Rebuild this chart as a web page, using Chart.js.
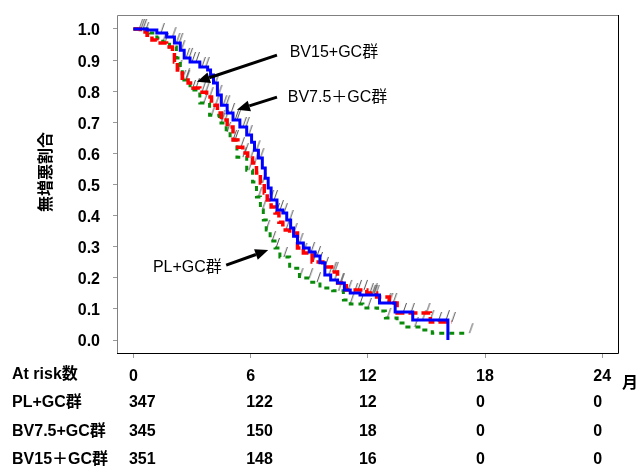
<!DOCTYPE html>
<html>
<head>
<meta charset="utf-8">
<script src="https://cdn.jsdelivr.net/npm/chart.js@4.4.1/dist/chart.umd.min.js"></script>
<style>
    html, body { margin: 0; padding: 0; background: #fff; }
    .chart-box { width: 637px; height: 468px; position: relative; }
</style>
</head>
<body>
<div class="chart-box"><canvas id="km"></canvas></div>
<script>
// Data: Kaplan-Meier curves (month, proportion without progression)
const xTicks = [0, 6, 12, 18, 24];
const yTicks = [0, 0.1, 0.2, 0.3, 0.4, 0.5, 0.6, 0.7, 0.8, 0.9, 1.0];

const bv15Months = [0, 0.7, 1.2, 1.7, 2.1, 2.4, 2.6, 2.9, 3.4, 3.8, 3.95, 4.1, 4.3, 4.5, 4.8, 5.1, 5.45, 5.8, 6.05, 6.2, 6.4, 6.6, 6.75, 6.9, 7.05, 7.35, 7.65, 7.85, 8.05, 8.2, 8.4, 8.7, 9.0, 9.3, 9.55, 9.8, 10.1, 10.45, 10.8, 11.1, 11.6, 12.6, 13.4, 14.3, 16.1];
const bv15Surv = [1.0, 0.997, 0.987, 0.974, 0.955, 0.932, 0.907, 0.894, 0.878, 0.868, 0.852, 0.826, 0.788, 0.755, 0.73, 0.707, 0.685, 0.659, 0.636, 0.61, 0.585, 0.553, 0.52, 0.489, 0.45, 0.418, 0.408, 0.386, 0.36, 0.334, 0.312, 0.296, 0.283, 0.27, 0.248, 0.209, 0.193, 0.183, 0.161, 0.151, 0.145, 0.119, 0.09, 0.064, 0.0];

const bv75Months = [0, 0.35, 0.7, 0.95, 1.2, 1.7, 2.0, 2.1, 2.25, 2.5, 2.8, 3.05, 3.4, 3.75, 4.0, 4.3, 4.5, 4.8, 5.1, 5.35, 5.6, 5.85, 6.1, 6.3, 6.5, 6.7, 6.85, 7.05, 7.25, 7.45, 7.65, 8.0, 8.4, 8.7, 9.15, 9.7, 10.15, 10.45, 10.9, 11.95, 12.45, 13.1, 13.5, 15.2, 16.3];
const bv75Surv = [1.0, 0.99, 0.98, 0.965, 0.955, 0.942, 0.923, 0.894, 0.868, 0.842, 0.826, 0.81, 0.797, 0.781, 0.755, 0.73, 0.707, 0.685, 0.643, 0.62, 0.601, 0.585, 0.569, 0.537, 0.505, 0.473, 0.45, 0.428, 0.408, 0.379, 0.354, 0.344, 0.296, 0.28, 0.251, 0.235, 0.219, 0.183, 0.161, 0.151, 0.138, 0.119, 0.087, 0.058, 0.058];

const plMonths = [0, 0.85, 1.2, 1.5, 1.85, 2.2, 2.4, 2.5, 2.9, 3.4, 3.9, 4.4, 4.75, 4.95, 5.3, 5.8, 6.1, 6.3, 6.5, 6.65, 6.8, 7.0, 7.25, 7.5, 8.0, 8.5, 9.05, 9.55, 10.2, 10.75, 11.1, 11.75, 12.5, 12.9, 13.5, 14.0, 14.7, 15.3, 17.1];
const plSurv = [1.0, 0.987, 0.971, 0.958, 0.942, 0.907, 0.874, 0.836, 0.804, 0.762, 0.723, 0.698, 0.669, 0.643, 0.588, 0.546, 0.508, 0.46, 0.418, 0.386, 0.354, 0.318, 0.296, 0.267, 0.231, 0.199, 0.186, 0.167, 0.158, 0.129, 0.116, 0.103, 0.093, 0.071, 0.055, 0.042, 0.032, 0.022, 0.022];

// censored observations (months)
const bv15Censor = [0.3, 0.5, 1.4, 2.0, 2.2, 2.35, 2.45, 2.7, 2.85, 3.0, 3.2, 3.5, 3.7, 4.2, 4.35, 4.6, 4.75, 5.0, 5.2, 5.3, 5.6, 5.75, 5.9, 6.3, 6.5, 7.2, 7.5, 7.7, 8.0, 8.5, 9.1, 9.4, 10.0, 10.3, 10.6, 11.0, 11.3, 12.2, 12.3, 12.4, 13.0, 13.3, 14.8, 15.2, 16.0];
const bv75Censor = [0.6, 1.6, 2.3, 2.7, 3.2, 3.5, 3.7, 3.9, 4.2, 4.5, 4.7, 5.2, 5.5, 5.7, 6.0, 6.2, 6.6, 7.0, 7.3, 7.8, 8.2, 8.7, 9.2, 9.5, 9.8, 10.2, 10.3, 10.6, 11.5, 11.8, 12.1, 12.3, 13.1, 13.8, 14.2, 15.0, 15.6, 16.3];
const plCensor = [0.4, 1.5, 2.5, 2.7, 3.0, 3.6, 4.0, 4.5, 4.8, 5.1, 5.6, 5.9, 6.4, 6.6, 6.8, 7.1, 7.3, 7.7, 8.5, 9.0, 9.4, 10.5, 11.1, 11.6, 12.0, 13.0, 14.4, 17.2];

// Number at risk
const riskHeader = "At risk数";
const riskGroups = ["PL+GC群", "BV7.5+GC群", "BV15＋GC群"];
const riskPL = [347, 122, 12, 0, 0];
const riskBV75 = [345, 150, 18, 0, 0];
const riskBV15 = [351, 148, 16, 0, 0];

const yTitle = "無増悪割合";
const xUnit = "月";

// ===========================================================================
const FONT = '"Liberation Sans", Arial, "Noto Sans CJK JP", sans-serif';

const toPoints = (months, surv) => months.map((m, i) => ({ x: m, y: surv[i] }));

const stepAt = (months, surv, t) => {
    let v = surv[0];
    months.forEach((m, i) => { if (m <= t) v = surv[i]; });
    return v;
};

const censorPoints = (times, months, surv) => times.map(t => ({ x: t, y: stepAt(months, surv, t) }));

// small "/" tick, drawn from the point upward
const censorMark = (() => {
    const c = document.createElement("canvas");
    c.width = 14; c.height = 26;
    const ctx = c.getContext("2d");
    ctx.strokeStyle = "#505050";
    ctx.lineWidth = 1;
    ctx.beginPath();
    ctx.moveTo(7, 13);
    ctx.lineTo(10.5, 3);
    ctx.stroke();
    return c;
})();

const censorSet = (data) => ({
    type: "scatter",
    data: data,
    pointStyle: censorMark,
    pointRadius: 5,
    showLine: false
});

// frame, risk table, axis title and the labels with arrows
const decorations = {
    id: "decorations",
    afterDraw(chart) {
        const { ctx, chartArea: a, scales: { x, y } } = chart;
        ctx.save();

        // frame
        ctx.lineWidth = 1;
        ctx.strokeStyle = "#808080";
        ctx.beginPath();
        ctx.moveTo(a.left + 0.5, a.bottom);
        ctx.lineTo(a.left + 0.5, a.top + 0.5);
        ctx.lineTo(a.right, a.top + 0.5);
        ctx.stroke();
        ctx.strokeStyle = "#000";
        ctx.beginPath();
        ctx.moveTo(a.right - 0.5, a.top);
        ctx.lineTo(a.right - 0.5, a.bottom - 0.5);
        ctx.lineTo(a.left, a.bottom - 0.5);
        ctx.stroke();

        // y title
        ctx.fillStyle = "#000";
        ctx.font = "bold 16px " + FONT;
        ctx.textAlign = "center";
        ctx.textBaseline = "middle";
        ctx.save();
        ctx.translate(47, 172);
        ctx.rotate(-Math.PI / 2);
        ctx.fillText(yTitle, 0, 0);
        ctx.restore();

        // month unit
        ctx.fillText(xUnit, 630, 384);

        // risk table
        const rows = [riskPL, riskBV75, riskBV15];
        const rowY = [403, 432, 460];
        ctx.textAlign = "left";
        ctx.fillText(riskHeader, 12, 375);
        rows.forEach((row, r) => {
            ctx.fillText(riskGroups[r], 12, rowY[r]);
            row.forEach((n, i) => {
                const w = ctx.measureText(String(xTicks[i])).width;
                ctx.fillText(String(n), x.getPixelForValue(xTicks[i]) - w / 2, rowY[r]);
            });
        });

        // curve labels
        const arrow = (x0, y0, x1, y1) => {
            const ang = Math.atan2(y1 - y0, x1 - x0);
            const len = 13, half = 5.5;
            const bx = x1 - len * Math.cos(ang), by = y1 - len * Math.sin(ang);
            ctx.strokeStyle = "#000";
            ctx.lineWidth = 3;
            ctx.beginPath();
            ctx.moveTo(x0, y0);
            ctx.lineTo(bx, by);
            ctx.stroke();
            ctx.beginPath();
            ctx.moveTo(x1, y1);
            ctx.lineTo(bx + half * Math.sin(ang), by - half * Math.cos(ang));
            ctx.lineTo(bx - half * Math.sin(ang), by + half * Math.cos(ang));
            ctx.closePath();
            ctx.fill();
        };
        const px = v => x.getPixelForValue(v);
        const py = v => y.getPixelForValue(v);

        ctx.font = "16px " + FONT;
        ctx.fillText("BV15+GC群", px(8.0), py(0.923));
        arrow(px(7.35), py(0.916), px(3.25), py(0.83));
        ctx.fillText("BV7.5＋GC群", px(7.9), py(0.781));
        arrow(px(7.35), py(0.781), px(5.3), py(0.74));
        ctx.fillText("PL+GC群", px(1.0), py(0.232));
        arrow(px(4.75), py(0.241), px(6.9), py(0.289));

        ctx.restore();
    }
};

// ===========================================================================
const canvas = document.getElementById("km");

new Chart(canvas, {
    type: "line",
    data: {
        datasets: [
            {
                label: "BV15+GC",
                data: toPoints(bv15Months, bv15Surv),
                borderColor: "#0000ff",
                borderWidth: 3,
                stepped: true
            },
            {
                label: "BV7.5+GC",
                data: toPoints(bv75Months, bv75Surv),
                borderColor: "#ff0000",
                borderWidth: 3.5,
                borderDash: [9, 4],
                stepped: true
            },
            {
                label: "PL+GC",
                data: toPoints(plMonths, plSurv),
                borderColor: "#0a8a0a",
                borderWidth: 3,
                borderDash: [5, 5],
                stepped: true
            },
            censorSet(censorPoints(bv15Censor, bv15Months, bv15Surv)),
            censorSet(censorPoints(bv75Censor, bv75Months, bv75Surv)),
            censorSet(censorPoints(plCensor, plMonths, plSurv))
        ]
    },
    options: {
        animation: false,
        responsive: true,
        maintainAspectRatio: false,
        devicePixelRatio: 1,
        elements: {
            point: { radius: 0 },
            line: { fill: false, borderCapStyle: "butt" }
        },
        plugins: {
            legend: { display: false },
            tooltip: { enabled: false }
        },
        layout: {
            padding: { top: 15, right: 18, left: 0, bottom: 0 }
        },
        scales: {
            x: {
                type: "linear",
                min: -0.84,
                max: 24.86,
                afterFit: (s) => { s.height = 114; s.paddingLeft = 0; s.paddingRight = 0; },
                afterBuildTicks: (s) => { s.ticks = xTicks.map(v => ({ value: v })); },
                border: { display: false },
                grid: { drawOnChartArea: false, drawTicks: true, tickLength: 4, color: "#999" },
                ticks: {
                    color: "#000",
                    padding: 9,
                    maxRotation: 0,
                    font: { family: FONT, size: 16, weight: "bold" }
                }
            },
            y: {
                type: "linear",
                min: -0.045,
                max: 1.045,
                afterFit: (s) => { s.width = 117; s.paddingTop = 0; s.paddingBottom = 0; },
                afterBuildTicks: (s) => { s.ticks = yTicks.map(v => ({ value: v })); },
                border: { display: false },
                grid: { drawOnChartArea: false, drawTicks: true, tickLength: 4, color: "#999" },
                ticks: {
                    color: "#000",
                    padding: 13,
                    labelOffset: 2,
                    callback: (v) => Number(v).toFixed(1),
                    font: { family: FONT, size: 16, weight: "bold" }
                }
            }
        }
    },
    plugins: [decorations]
});
</script>
</body>
</html>
